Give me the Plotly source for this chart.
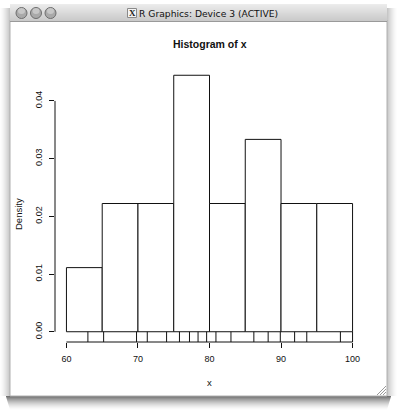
import numpy as np
import plotly.graph_objects as go

# ---- data ----
x_values = [63.0, 65.2, 69.8, 71.3, 74.0, 75.8, 77.2, 78.4, 79.6, 80.9,
            83.0, 86.2, 88.2, 89.9, 91.9, 93.6, 98.3, 100.0]
bin_edges = [60, 65, 70, 75, 80, 85, 90, 95, 100]
x_ticks = [60, 70, 80, 90, 100]
y_ticks = [0.00, 0.01, 0.02, 0.03, 0.04]
y_tick_labels = ["0.00", "0.01", "0.02", "0.03", "0.04"]
main_title = "Histogram of x"
x_label = "x"
y_label = "Density"
window_title = "R Graphics: Device 3 (ACTIVE)"

density, edges = np.histogram(x_values, bins=bin_edges, density=True)
centers = [(edges[i] + edges[i + 1]) / 2 for i in range(len(edges) - 1)]
widths = [edges[i + 1] - edges[i] for i in range(len(edges) - 1)]

# R-style 4% axis extension
xr = [edges[0] - 0.04 * (edges[-1] - edges[0]), edges[-1] + 0.04 * (edges[-1] - edges[0])]
ymax = float(max(density))
yr = [-0.04 * ymax, ymax * 1.04]

W, H = 398, 413
L, R, T, B = 55, 34, 65, 71
PW, PH = W - L - R, H - T - B


def pxx(x):
    return (x - L) / PW


def pyy(y):
    return (H - B - y) / PH


fig = go.Figure()

fig.add_trace(go.Bar(
    x=centers, y=density, width=widths,
    marker=dict(color="white", line=dict(color="#111111", width=1)),
    hoverinfo="skip", showlegend=False,
))

# rug
rx, ry = [], []
for v in x_values:
    rx += [v, v, None]
    ry += [yr[0], 0, None]
fig.add_trace(go.Scatter(x=rx, y=ry, mode="lines",
                         line=dict(color="#111111", width=1),
                         hoverinfo="skip", showlegend=False, cliponaxis=False))

shapes = []
# window shadows
for j in range(14):
    a = 0.55 * (1 - j / 14) ** 1.6
    shapes.append(dict(type="rect", xref="paper", yref="paper",
                       x0=pxx(6 + j * 0.3), x1=pxx(391 - j * 0.3),
                       y0=pyy(396 + j), y1=pyy(397 + j),
                       fillcolor=f"rgba(0,0,0,{a:.3f})", line=dict(width=0), layer="below"))
for k in range(10):
    a = 0.22 * (1 - k / 10) ** 1.5
    shapes.append(dict(type="rect", xref="paper", yref="paper",
                       x0=pxx(9 - k), x1=pxx(10 - k), y0=pyy(396), y1=pyy(8),
                       fillcolor=f"rgba(0,0,0,{a:.3f})", line=dict(width=0), layer="below"))
    shapes.append(dict(type="rect", xref="paper", yref="paper",
                       x0=pxx(387 + k), x1=pxx(388 + k), y0=pyy(396), y1=pyy(8),
                       fillcolor=f"rgba(0,0,0,{a:.3f})", line=dict(width=0), layer="below"))
# window body
shapes.append(dict(type="rect", xref="paper", yref="paper",
                   x0=pxx(10), x1=pxx(387), y0=pyy(396), y1=pyy(20),
                   fillcolor="white", line=dict(color="#b0b0b0", width=1), layer="below"))
# title bar gradient
n = 18
c0, c1 = np.array([236, 236, 236]), np.array([200, 200, 200])
for i in range(n):
    c = (c0 + (c1 - c0) * i / (n - 1)).astype(int)
    shapes.append(dict(type="rect", xref="paper", yref="paper",
                       x0=pxx(10), x1=pxx(387), y0=pyy(4 + i + 1), y1=pyy(4 + i),
                       fillcolor=f"rgb({c[0]},{c[1]},{c[2]})", line=dict(width=0), layer="below"))
shapes.append(dict(type="line", xref="paper", yref="paper",
                   x0=pxx(10), x1=pxx(387), y0=pyy(21.5), y1=pyy(21.5),
                   line=dict(color="#9a9a9a", width=1), layer="below"))
# traffic lights
for cx in [21.5, 36, 50.5]:
    shapes.append(dict(type="circle", xref="paper", yref="paper",
                       x0=pxx(cx - 5.5), x1=pxx(cx + 5.5), y0=pyy(13 + 5.5), y1=pyy(13 - 5.5),
                       fillcolor="#a9a9a9", line=dict(color="#6e6e6e", width=1), layer="below"))
    shapes.append(dict(type="circle", xref="paper", yref="paper",
                       x0=pxx(cx - 3.5), x1=pxx(cx + 3.5), y0=pyy(13 + 1), y1=pyy(13 - 5),
                       fillcolor="rgba(255,255,255,0.35)", line=dict(width=0), layer="below"))
# X11 icon
shapes.append(dict(type="rect", xref="paper", yref="paper",
                   x0=pxx(127.5), x1=pxx(136.5), y0=pyy(17.5), y1=pyy(8.5),
                   fillcolor="#f4f4f4", line=dict(color="#8a8a8a", width=1), layer="below"))
# resize grip
for d in [3, 6, 9]:
    shapes.append(dict(type="line", xref="paper", yref="paper",
                       x0=pxx(386 - d), x1=pxx(386), y0=pyy(395), y1=pyy(395 - d),
                       line=dict(color="#9a9a9a", width=1), layer="above"))

# R axes lines (partial)
shapes.append(dict(type="line", xref="x", yref="y domain",
                   x0=x_ticks[0], x1=x_ticks[-1], y0=0, y1=0,
                   line=dict(color="#111111", width=1)))
shapes.append(dict(type="line", xref="x domain", yref="y",
                   x0=0, x1=0, y0=y_ticks[0], y1=y_ticks[-1],
                   line=dict(color="#111111", width=1)))

annotations = [
    dict(text=f"<b>{main_title}</b>", xref="paper", yref="paper", x=0.5, y=pyy(44),
         xanchor="center", yanchor="middle", showarrow=False,
         font=dict(family="Liberation Sans, Arial", size=10.5, color="#111111")),
    dict(text=x_label, xref="paper", yref="paper", x=0.5, y=pyy(382),
         xanchor="center", yanchor="middle", showarrow=False,
         font=dict(family="Liberation Sans, Arial", size=9.5, color="#111111")),
    dict(text=y_label, xref="paper", yref="paper", x=pxx(18), y=pyy(214),
         xanchor="center", yanchor="middle", showarrow=False, textangle=-90,
         font=dict(family="Liberation Sans, Arial", size=9.5, color="#111111")),
    dict(text=window_title, xref="paper", yref="paper", x=pxx(208), y=pyy(13),
         xanchor="center", yanchor="middle", showarrow=False,
         font=dict(family="DejaVu Sans, Verdana", size=9.2, color="#111111")),
    dict(text="<b>X</b>", xref="paper", yref="paper", x=pxx(132), y=pyy(13),
         xanchor="center", yanchor="middle", showarrow=False,
         font=dict(family="Liberation Serif", size=9, color="#222222")),
]

fig.update_layout(
    width=W, height=H,
    margin=dict(l=L, r=R, t=T, b=B, pad=0),
    paper_bgcolor="white", plot_bgcolor="rgba(0,0,0,0)",
    shapes=shapes, annotations=annotations,
    bargap=0, showlegend=False, hovermode=False,
    xaxis=dict(range=xr, tickvals=x_ticks, ticks="outside", ticklen=5, tickwidth=1,
               tickcolor="#111111", showgrid=False, zeroline=False, showline=False,
               ticklabelstandoff=3, fixedrange=True,
               tickfont=dict(family="Liberation Sans, Arial", size=9, color="#111111")),
    yaxis=dict(range=yr, tickvals=y_ticks, ticktext=y_tick_labels, ticks="outside",
               ticklen=5, tickwidth=1, tickcolor="#111111", showgrid=False,
               zeroline=False, showline=False, tickangle=-90, ticklabelstandoff=3,
               fixedrange=True,
               tickfont=dict(family="Liberation Sans, Arial", size=9, color="#111111")),
)

fig.write_html("out.html", config={"displayModeBar": False, "staticPlot": True},
               post_script="document.body.style.margin='0';document.body.style.overflow='hidden';")
